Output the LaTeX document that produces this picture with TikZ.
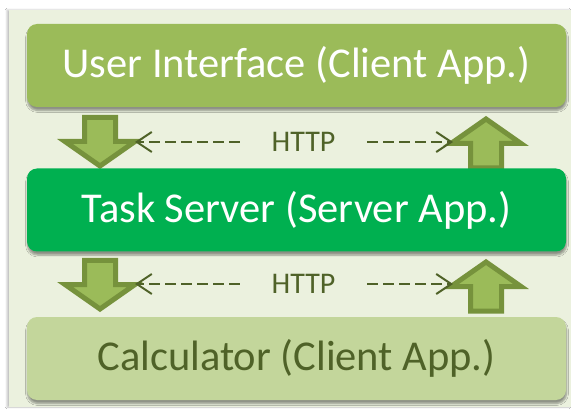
\documentclass[tikz,border=0pt]{standalone}
\usepackage{fontspec}
\setmainfont{Carlito}
\usetikzlibrary{arrows.meta,shadows.blur}

\definecolor{panelbg}{HTML}{EBF1DE}
\definecolor{olive}{HTML}{9BBB59}
\definecolor{olivedark}{HTML}{76923C}
\definecolor{olivetext}{HTML}{4F6228}
\definecolor{olivelight}{HTML}{C3D69B}
\definecolor{servergreen}{HTML}{00B050}

\tikzset{
  layerbox/.style={rounded corners=10pt, minimum width=539pt, minimum height=83pt,
    inner sep=0pt, font=\fontsize{42.5}{50}\selectfont,
    blur shadow={shadow xshift=0.5pt, shadow yshift=-3.5pt, shadow blur steps=6,
      shadow blur extra rounding=2pt, shadow opacity=40}},
  blockarrow/.style={fill=olive, draw=olivedark, line width=5pt, line join=miter},
  httplabel/.style={text=olivetext, font=\fontsize{30}{36}\selectfont,
    minimum width=127pt, inner sep=0pt},
  httplink/.style={draw=olivetext, line width=2.6pt, dash pattern=on 10.5pt off 5.5pt,
    -{Straight Barb[length=15pt, width=20pt, line width=2pt]}},
}

\begin{document}
\begin{tikzpicture}[x=1pt, y=-1pt]
\useasboundingbox (0,0) rectangle (571,409);
\fill[white] (0,0) rectangle (571,409);

% backdrop panel
\fill[panelbg, blur shadow={shadow xshift=-2pt, shadow yshift=0pt,
  shadow blur steps=4, shadow opacity=25}] (9,10) rectangle (571,407);

% upward / downward block arrows between the layers
\draw[blockarrow] (84.5,117.5) -- (115.5,117.5) -- (115.5,141.5) -- (135,141.5)
  -- (100,166) -- (65,141.5) -- (84.5,141.5) -- cycle;
\draw[blockarrow] (486,119) -- (521,143.5) -- (501.5,143.5) -- (501.5,168)
  -- (470.5,168) -- (470.5,143.5) -- (451,143.5) -- cycle;
\draw[blockarrow] (84.5,260.5) -- (115.5,260.5) -- (115.5,284.5) -- (135,284.5)
  -- (100,309) -- (65,284.5) -- (84.5,284.5) -- cycle;
\draw[blockarrow] (486,262) -- (521,286.5) -- (501.5,286.5) -- (501.5,311)
  -- (470.5,311) -- (470.5,286.5) -- (451,286.5) -- cycle;

% ends of the HTTP links, on the heads of the block arrows
\coordinate (downA) at (135,142);
\coordinate (upA)   at (453,142);
\coordinate (downB) at (135,284);
\coordinate (upB)   at (453,284);

% the three layers
\node[layerbox, fill=olive, text=white] (ui) at (296.5,65.5)
  {User Interface (Client App.)};
\node[layerbox, fill=servergreen, text=white] (server) at (296.5,210)
  {Task Server (Server App.)};
\node[layerbox, fill=olivelight, text=olivetext] (calc) at (296.5,358.5)
  {Calculator (Client App.)};

% HTTP links
\node[httplabel] (httpA) at (303.5,142) {HTTP};
\draw[httplink] (httpA.west) -- (downA);
\draw[httplink] (httpA.east) -- (upA);

\node[httplabel] (httpB) at (303.5,284) {HTTP};
\draw[httplink] (httpB.west) -- (downB);
\draw[httplink] (httpB.east) -- (upB);
\end{tikzpicture}
\end{document}
